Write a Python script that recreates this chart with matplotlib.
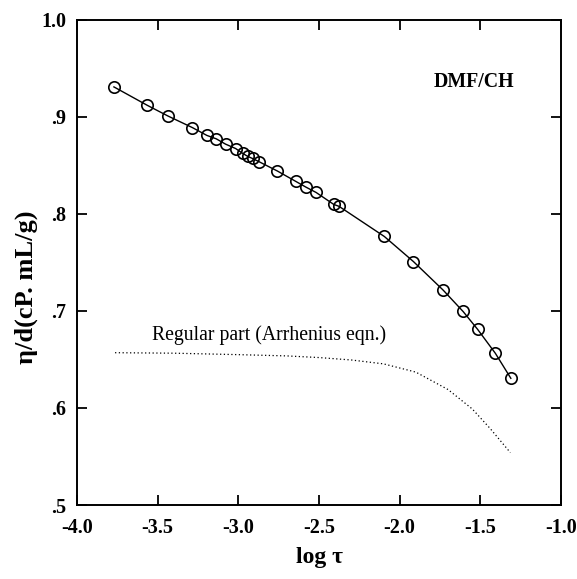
import matplotlib
matplotlib.use('Agg')
import matplotlib.pyplot as plt
import numpy as np

# 폰트 설정 (Times 계열)
plt.rcParams['font.family'] = ['Liberation Serif', 'DejaVu Serif']

# 측정값 (log tau, eta/d)
log_tau = [-3.771, -3.564, -3.436, -3.284, -3.195, -3.137, -3.079, -3.017,
           -2.974, -2.943, -2.912, -2.874, -2.758, -2.645, -2.580, -2.518,
           -2.408, -2.376, -2.095, -1.915, -1.731, -1.607, -1.517, -1.407,
           -1.311]
eta_d = [0.931, 0.912, 0.901, 0.889, 0.881, 0.8775, 0.872, 0.8675,
         0.8626, 0.8595, 0.8572, 0.8541, 0.8443, 0.8337, 0.8276, 0.8222,
         0.8098, 0.8079, 0.7768, 0.7510, 0.7216, 0.6995, 0.6811, 0.6564,
         0.6306]

# 규칙 부분 (Arrhenius 식)
reg_x = [-3.764, -3.4, -3.0, -2.7, -2.5, -2.3, -2.1, -1.9, -1.7, -1.55,
         -1.44, -1.314]
reg_y = [0.657, 0.6565, 0.655, 0.6537, 0.652, 0.6495, 0.6455, 0.637, 0.619,
         0.599, 0.579, 0.554]

x_ticks = [-4.0, -3.5, -3.0, -2.5, -2.0, -1.5, -1.0]
x_ticklabels = ['-4.0', '-3.5', '-3.0', '-2.5', '-2.0', '-1.5', '-1.0']
y_ticks = [0.5, 0.6, 0.7, 0.8, 0.9, 1.0]
y_ticklabels = ['.5', '.6', '.7', '.8', '.9', '1.0']

fig = plt.figure(figsize=(5.77, 5.79), dpi=100)
ax = fig.add_axes([0.1334, 0.1278, 0.8389, 0.8377])

ax.plot(log_tau, eta_d, color='black', linewidth=1.0, marker='o',
        markersize=8.2, markerfacecolor='none', markeredgecolor='black',
        markeredgewidth=1.2)
ax.plot(reg_x, reg_y, color='black', linewidth=0.9, linestyle=(0, (1, 2)))

ax.set_xlim(-4.0, -1.0)
ax.set_ylim(0.5, 1.0)
ax.set_xticks(x_ticks)
ax.set_xticklabels(x_ticklabels, fontweight='bold', fontsize=14.5)
ax.set_yticks(y_ticks)
ax.set_yticklabels(y_ticklabels, fontweight='bold', fontsize=14.5)
ax.tick_params(direction='in', length=7, width=1.3, top=True, right=True)
ax.tick_params(axis='x', pad=9)
ax.tick_params(axis='y', pad=7.5)
for s in ax.spines.values():
    s.set_linewidth(1.4)

# 축 제목
fig.text(320 / 577, 1 - 557 / 579, 'log τ', fontsize=17, fontweight='bold',
         ha='center', va='center')
fig.text(26 / 577, 1 - 287 / 579, 'η/d(cP. mL/g)', fontsize=19,
         fontweight='bold', ha='center', va='center', rotation=90)

ax.text(-1.787, 0.936, 'DMF/CH', fontsize=14.3, fontweight='bold',
        ha='left', va='center')
ax.text(-3.535, 0.675, 'Regular part (Arrhenius eqn.)', fontsize=14.2,
        ha='left', va='center')

plt.savefig('out.png', dpi=100)
